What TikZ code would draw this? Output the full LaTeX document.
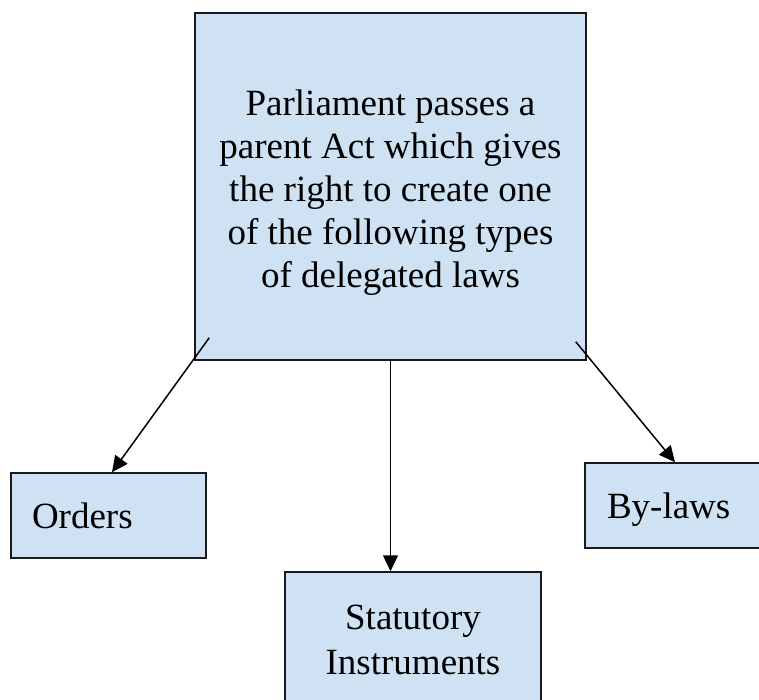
\documentclass[tikz,border=0pt]{standalone}
\usepackage{fontspec}
\setmainfont{Liberation Serif}
\usetikzlibrary{arrows.meta,positioning}
\definecolor{BoxBlue}{HTML}{CFE2F3}
\definecolor{BoxLine}{HTML}{1A1A1A}

\begin{document}
\begin{tikzpicture}[x=1pt,y=-1pt,
  lawbox/.style={draw=BoxLine,line width=1.5pt,fill=BoxBlue,inner sep=0pt,font=\fontsize{37}{43}\selectfont},
  link/.style={line width=1.5pt,-{Triangle[length=16pt,width=15pt]}}]
\useasboundingbox (0,0) rectangle (759,700);
\node[lawbox,minimum width=391,minimum height=347,align=center,text height=202pt,text depth=0pt] (parent) at (390.5,186.5) {Parliament passes a\\parent Act which gives\\the right to create one\\of the following types\\of delegated laws};
\node[lawbox,minimum height=85,text width=153pt,inner xsep=21pt,align=left] (orders) at (108.5,515.5) {Orders};
\node[lawbox,minimum height=85,text width=136pt,inner xsep=22pt,align=left,text depth=0pt] (bylaws) at (675,505.5) {By-laws};
\node[lawbox,minimum width=256,minimum height=136,align=center,font=\fontsize{37}{45}\selectfont] (stat) at (413,640) {Statutory\\Instruments};
% connectors start a little inside the parent box
\coordinate (lstart) at ([shift={(15,-23)}]parent.south west);
\coordinate (rstart) at ([shift={(-11,-19)}]parent.south east);
\draw[link] (lstart) -- ([xshift=3.5]orders.north);
\draw[link] (parent.south) -- (parent.south |- stat.north);
\draw[link] (rstart) -- (bylaws.north);
\end{tikzpicture}
\end{document}
